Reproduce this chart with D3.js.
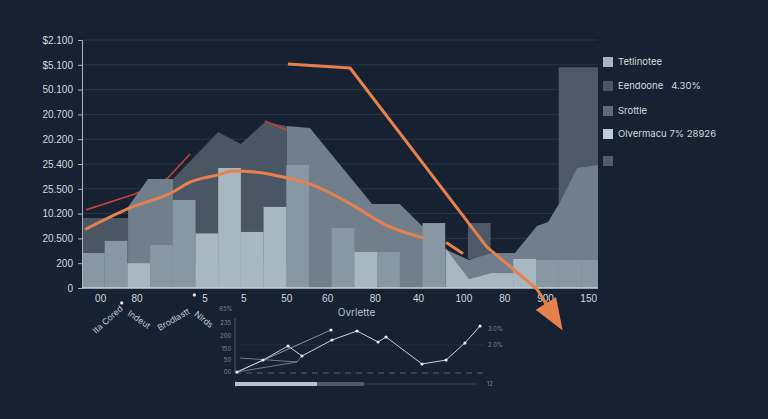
<!DOCTYPE html>
<html>
<head>
<meta charset="utf-8">
<script src="https://d3js.org/d3.v7.min.js"></script>
<style>
  html, body { margin: 0; padding: 0; background: #162131; }
  svg { display: block; font-family: Inter, "DejaVu Sans", sans-serif; }
</style>
</head>
<body>
<div id="chart"></div>
<script>
// ---- data ----
// y axis is categorical-looking, ticks 0..10 carry these labels
var yTickLabels = ["0", "200", "20.500", "10.200", "25.500", "25.400", "20.200", "20.700", "50.100", "$5.100", "$2.100"];

// x tick positions (column index units) and their labels
var xTickPos = [0.8, 2.4, 5.4, 7.1, 9.0, 10.8, 12.9, 14.8, 16.8, 18.6, 20.4, 22.3];
var xTickLabels = ["00", "80", "5", "5", "50", "60", "80", "40", "100", "80", "900", "150"];

// rotated category names under the axis
var slantNames = ["Ita Cored", "Indeut", "Brodlastt", "Nlrds"];
var slantPos = [1.15, 2.5, 4.05, 5.35];
var slantAngle = [-42, 35, -30, 38];
var dotPos = [[1.75, -0.6], [4.95, -0.28]];

// back area "Eendoone" [column, value]
var eendooneArea = [[0, 2.82], [2.03, 2.82], [4.05, 4.44], [6.0, 6.29], [7.0, 5.81], [8.06, 6.69], [9.03, 6.53], [9.03, 0]];
// floating dark blocks [from column, to column, low, high]
var eendooneBlocks = [[17, 18, 1.17, 2.62], [21, 23, 0, 8.9]];

// middle area "Srottle"
var srottleArea = [[2.03, 3.27], [2.91, 4.4], [4.01, 4.4], [4.01, 1.0], [9.03, 1.0], [9.03, 6.53], [10.04, 6.45],
  [12.78, 3.39], [14.0, 3.39], [15.07, 2.42], [16.08, 1.53], [17.05, 1.13], [18.06, 1.41], [19.07, 1.41],
  [20.04, 2.5], [20.53, 2.66], [21.06, 3.47], [21.81, 4.84], [22.73, 4.96]];

// bars, one value per column (null = no bar)
var tetlinoteeBars = [1.41, 1.9, null, 1.73, 3.55, null, null, null, null, 4.96, null, 2.42, null, 1.45, null, 2.62, null, null, null, null, 1.13, 1.13, 1.13];
var olvermacuBars = [null, null, 1.0, null, null, 2.2, 4.84, 2.26, 3.27, null, null, null, 1.45, null, null, null, null, null, 0.6, 1.17, null, null, null];
var olvermacuWedge = [[16.04, 1.57], [17.05, 0.35], [18.06, 0.6]];

// thin red line (null = gap)
var redLine = [[0.18, 3.15], [2.33, 3.79], [3.79, 4.44], [4.76, 5.4], null, [8.06, 6.73], [9.03, 6.37]];

// smooth orange line
var orangeLine = [[0.18, 2.38], [2.11, 3.23], [4.01, 3.87], [4.67, 4.23], [5.99, 4.56], [6.65, 4.72], [7.97, 4.64],
  [9.03, 4.44], [10.18, 4.15], [11.67, 3.47], [13.57, 2.46], [15.02, 2.02], null, [16.08, 1.81], [16.74, 1.41]];

// big arrow
var arrowLine = [[9.07, 9.03], [11.81, 8.87], [17.84, 1.65], [20.04, -0.04], [20.48, -0.69]];

// legend
var legendNames = ["Tetlinotee", "Eendoone   4.30%", "Srottle", "Olvermacu 7% 28926", ""];

// inset line chart (x 0..100, y 0..100)
var insetMain = [[0.8, 1.8], [11.3, 23.6], [21.4, 49.1], [27.0, 30.9], [39.1, 60.0], [49.2, 76.4], [57.7, 56.4],
  [60.9, 65.5], [75.4, 16.4], [85.1, 23.6], [92.7, 54.5], [98.8, 85.5]];
var insetB = [[0.8, 1.8], [38.7, 78.2]];
var insetC = [[2.0, 27.3], [25.0, 20.0], [27.0, 30.9]];
var insetD = [[0.8, 1.8], [25.0, 20.0]];
var insetYPos = [1.8, 23.6, 43.6, 67.3, 90.9, 115];
var insetYLabels = ["00", "50", "150", "200", "235", "65%"];
var insetRightLabels = [["3.0%", 80], ["2.0%", 51]];
var insetSlider = [33.1, 52.0, 97.6];

// ---- layout ----
var svgWidth = 768;
var svgHeight = 419;

var svg = d3.select("#chart")
  .append("svg")
  .attr("width", svgWidth)
  .attr("height", svgHeight);

svg.append("rect")
  .attr("width", svgWidth)
  .attr("height", svgHeight)
  .attr("fill", "#162131");

var plotLeft = 82, plotRight = 598, plotTop = 40, plotBottom = 288;

// column-index scale and value scale
var x = d3.scaleLinear().domain([0, 23]).range([plotLeft, plotLeft + 23 * 22.7]);
var y = d3.scaleLinear().domain([0, 10]).range([plotBottom, plotTop]);

svg.append("clipPath")
  .attr("id", "plotClip")
  .append("rect")
  .attr("x", plotLeft)
  .attr("y", 0)
  .attr("width", plotRight - plotLeft)
  .attr("height", plotBottom);

// gridlines
svg.append("g")
  .selectAll("line")
  .data(d3.range(1, 11))
  .enter()
  .append("line")
  .attr("x1", plotLeft)
  .attr("x2", plotRight)
  .attr("y1", d => y(d))
  .attr("y2", d => y(d))
  .attr("stroke", "#2a3748")
  .attr("stroke-width", 1);

var plot = svg.append("g").attr("clip-path", "url(#plotClip)");

var area = d3.area()
  .x(d => x(d[0]))
  .y0(y(0))
  .y1(d => y(d[1]));

var line = d3.line()
  .defined(d => d != null)
  .x(d => x(d[0]))
  .y(d => y(d[1]));

// back dark area + blocks
plot.append("path")
  .datum(eendooneArea)
  .attr("d", area)
  .attr("fill", "#4a5663");

plot.selectAll(".block")
  .data(eendooneBlocks)
  .enter()
  .append("rect")
  .attr("class", "block")
  .attr("x", d => x(d[0]))
  .attr("width", d => x(d[1]) - x(d[0]))
  .attr("y", d => y(d[3]))
  .attr("height", d => y(d[2]) - y(d[3]))
  .attr("fill", "#4d5966");

// red line sits between the dark area and the middle area
plot.append("path")
  .datum(redLine)
  .attr("d", line)
  .attr("fill", "none")
  .attr("stroke", "#c2423d")
  .attr("stroke-width", 1.6);

// middle area
plot.append("path")
  .datum(srottleArea)
  .attr("d", area)
  .attr("fill", "#717f8c");

// bars
function drawBars(values, color) {
  plot.append("g")
    .selectAll("rect")
    .data(values.map((v, i) => ({ i: i, v: v })).filter(d => d.v != null))
    .enter()
    .append("rect")
    .attr("x", d => x(d.i))
    .attr("width", d => x(d.i + 1) - x(d.i))
    .attr("y", d => y(d.v))
    .attr("height", d => y(0) - y(d.v))
    .attr("fill", color);
}
drawBars(tetlinoteeBars, "#8797a4");
drawBars(olvermacuBars, "#a8b8c3");

plot.append("path")
  .datum(olvermacuWedge)
  .attr("d", area)
  .attr("fill", "#a8b8c3");

// orange curve
plot.append("path")
  .datum(orangeLine)
  .attr("d", line.curve(d3.curveMonotoneX))
  .attr("fill", "none")
  .attr("stroke", "#e8804e")
  .attr("stroke-width", 3)
  .attr("stroke-linecap", "round");
line.curve(d3.curveLinear);

// y axis
var yAxis = svg.append("g")
  .attr("transform", `translate(${plotLeft}, 0)`)
  .call(d3.axisLeft(y)
    .tickValues(d3.range(0, 11))
    .tickFormat(d => yTickLabels[d])
    .tickSize(4)
    .tickPadding(5));
yAxis.select(".domain").attr("stroke", "#aab4be");
yAxis.selectAll(".tick line").attr("stroke", "#aab4be");
yAxis.selectAll("text")
  .attr("fill", "#d2d8de")
  .style("font-size", "10px");

// x axis labels
var xAxis = svg.append("g")
  .attr("transform", `translate(0, ${plotBottom})`)
  .call(d3.axisBottom(x)
    .tickValues(xTickPos)
    .tickFormat((d, i) => xTickLabels[i])
    .tickSize(0)
    .tickPadding(7));
xAxis.select(".domain").remove();
xAxis.selectAll("text")
  .attr("fill", "#d2d8de")
  .style("font-size", "10px");

// baseline
svg.append("line")
  .attr("x1", plotLeft)
  .attr("x2", plotRight)
  .attr("y1", y(0))
  .attr("y2", y(0))
  .attr("stroke", "#c5d0d8")
  .attr("stroke-width", 1.6);

// slanted names
svg.append("g")
  .selectAll("text")
  .data(slantNames)
  .enter()
  .append("text")
  .attr("transform", (d, i) => `translate(${x(slantPos[i])}, 320) rotate(${slantAngle[i]})`)
  .attr("text-anchor", "middle")
  .attr("dominant-baseline", "middle")
  .attr("fill", "#c3cbd3")
  .style("font-size", "8.5px")
  .text(d => d);

svg.append("g")
  .selectAll("circle")
  .data(dotPos)
  .enter()
  .append("circle")
  .attr("cx", d => x(d[0]))
  .attr("cy", d => y(d[1]))
  .attr("r", 1.6)
  .attr("fill", "#e6ebef");

// big arrow
var defs = svg.append("defs");
defs.append("marker")
  .attr("id", "arrowHead")
  .attr("markerUnits", "userSpaceOnUse")
  .attr("viewBox", "0 0 32 24")
  .attr("refX", 2)
  .attr("refY", 12)
  .attr("markerWidth", 32)
  .attr("markerHeight", 24)
  .attr("orient", "auto")
  .append("path")
  .attr("d", "M0,0 L32,12 L0,24 Z")
  .attr("fill", "#e8804e");

svg.append("path")
  .datum(arrowLine)
  .attr("d", line)
  .attr("fill", "none")
  .attr("stroke", "#e8804e")
  .attr("stroke-width", 3)
  .attr("stroke-linejoin", "round")
  .attr("marker-end", "url(#arrowHead)");

// legend
var legendColors = ["#a5b4c0", "#4a5561", "#5f6b77", "#c0ccd5", "#525d69"];
var legendY = [62, 86, 111, 134, 161];
var legend = svg.append("g");
legend.selectAll("rect")
  .data(legendNames)
  .enter()
  .append("rect")
  .attr("x", 603)
  .attr("y", (d, i) => legendY[i] - 5)
  .attr("width", 10)
  .attr("height", 10)
  .attr("fill", (d, i) => legendColors[i]);
legend.selectAll("text")
  .data(legendNames)
  .enter()
  .append("text")
  .attr("x", 618)
  .attr("y", (d, i) => legendY[i])
  .attr("dominant-baseline", "middle")
  .attr("fill", "#d2d8de")
  .style("font-size", "9.5px")
  .style("white-space", "pre")
  .attr("xml:space", "preserve")
  .text(d => d);

// inset chart
var ix = d3.scaleLinear().domain([0, 100]).range([235, 483]);
var iy = d3.scaleLinear().domain([0, 100]).range([373, 318]);
var inset = svg.append("g");

inset.append("text")
  .attr("x", ix(49))
  .attr("y", 313)
  .attr("text-anchor", "middle")
  .attr("dominant-baseline", "middle")
  .attr("fill", "#b9c3cc")
  .style("font-size", "10px")
  .text("Ovrlette");

inset.append("line")
  .attr("x1", ix(0)).attr("x2", ix(0))
  .attr("y1", iy(100)).attr("y2", iy(0))
  .attr("stroke", "#4e5c6c");

inset.append("line")
  .attr("x1", ix(0)).attr("x2", ix(100))
  .attr("y1", iy(0)).attr("y2", iy(0))
  .attr("stroke", "#566474")
  .attr("stroke-dasharray", "6,5");

inset.append("line")
  .attr("x1", ix(2)).attr("x2", ix(100))
  .attr("y1", iy(51)).attr("y2", iy(51))
  .attr("stroke", "#334052")
  .attr("stroke-dasharray", "1,1");

inset.selectAll(".ylab")
  .data(insetYLabels)
  .enter()
  .append("text")
  .attr("class", "ylab")
  .attr("x", (d, i) => i === 5 ? ix(-1) : ix(-1.5))
  .attr("y", (d, i) => iy(insetYPos[i]))
  .attr("text-anchor", "end")
  .attr("dominant-baseline", "middle")
  .attr("fill", "#7a8796")
  .style("font-size", "6px")
  .text(d => d);

inset.selectAll(".rlab")
  .data(insetRightLabels)
  .enter()
  .append("text")
  .attr("class", "rlab")
  .attr("x", ix(102))
  .attr("y", d => iy(d[1]))
  .attr("dominant-baseline", "middle")
  .attr("fill", "#7a8796")
  .style("font-size", "6px")
  .text(d => d[0]);

var iline = d3.line().x(d => ix(d[0])).y(d => iy(d[1]));

[insetC, insetD].forEach(function(s) {
  inset.append("path")
    .datum(s)
    .attr("d", iline)
    .attr("fill", "none")
    .attr("stroke", "#8893a0")
    .attr("stroke-width", 0.8);
});

inset.append("path")
  .datum(insetB)
  .attr("d", iline)
  .attr("fill", "none")
  .attr("stroke", "#a4afba")
  .attr("stroke-width", 0.8);

inset.append("path")
  .datum(insetMain)
  .attr("d", iline)
  .attr("fill", "none")
  .attr("stroke", "#c9d1d9")
  .attr("stroke-width", 1);

inset.selectAll(".pt")
  .data(insetMain.concat([insetB[1]]))
  .enter()
  .append("circle")
  .attr("class", "pt")
  .attr("cx", d => ix(d[0]))
  .attr("cy", d => iy(d[1]))
  .attr("r", 1.6)
  .attr("fill", "#e8edf1");

// slider under the inset
inset.append("line")
  .attr("x1", ix(insetSlider[1])).attr("x2", ix(insetSlider[2]))
  .attr("y1", 384).attr("y2", 384)
  .attr("stroke", "#3a4757");
inset.append("rect")
  .attr("x", ix(0)).attr("y", 382)
  .attr("width", ix(insetSlider[0]) - ix(0)).attr("height", 4)
  .attr("fill", "#b8c4cd");
inset.append("rect")
  .attr("x", ix(insetSlider[0])).attr("y", 382)
  .attr("width", ix(insetSlider[1]) - ix(insetSlider[0])).attr("height", 4)
  .attr("fill", "#4d5a68");
inset.append("text")
  .attr("x", ix(101.5))
  .attr("y", 384)
  .attr("dominant-baseline", "middle")
  .attr("fill", "#7a8796")
  .style("font-size", "6px")
  .text("12");
</script>
</body>
</html>
